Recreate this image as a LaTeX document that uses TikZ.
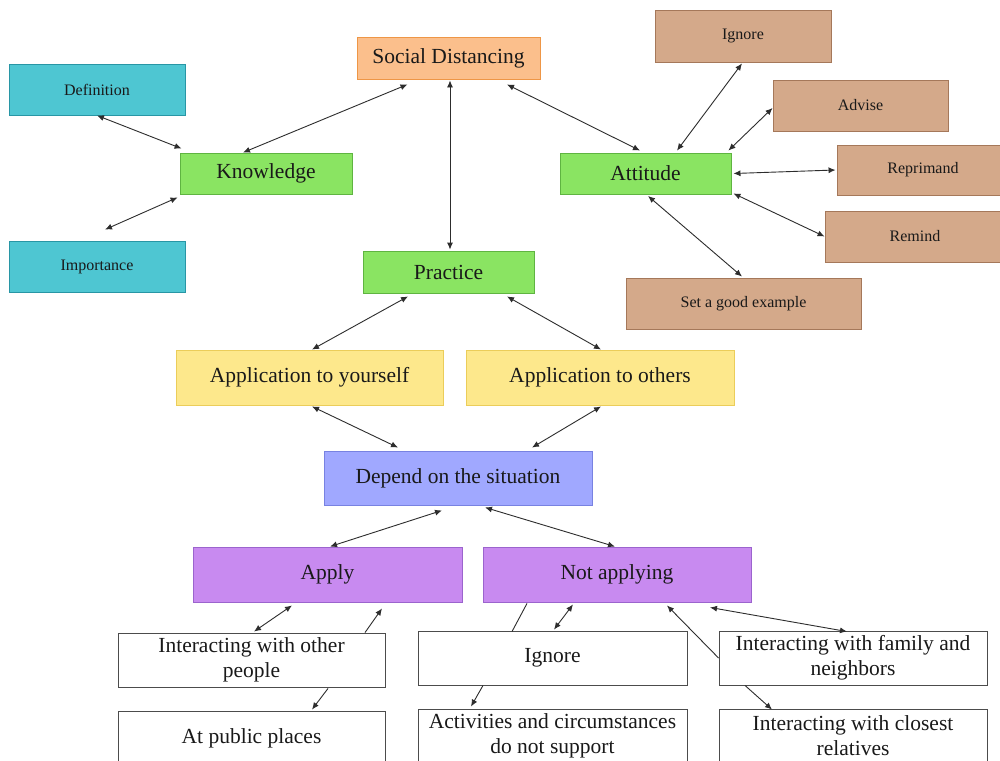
\documentclass[tikz,border=0pt]{standalone}
\usepackage{fontspec}
\setmainfont{Liberation Serif}
\usetikzlibrary{arrows.meta,calc}
\definecolor{orF}{RGB}{251,191,140}\definecolor{orD}{RGB}{238,150,70}
\definecolor{tlF}{RGB}{78,198,210}\definecolor{tlD}{RGB}{40,150,165}
\definecolor{grF}{RGB}{138,228,98}\definecolor{grD}{RGB}{95,180,65}
\definecolor{tnF}{RGB}{212,169,138}\definecolor{tnD}{RGB}{165,120,90}
\definecolor{ylF}{RGB}{253,232,140}\definecolor{ylD}{RGB}{235,205,90}
\definecolor{blF}{RGB}{160,168,255}\definecolor{blD}{RGB}{120,130,225}
\definecolor{puF}{RGB}{200,138,240}\definecolor{puD}{RGB}{155,100,205}
\definecolor{lnC}{RGB}{45,45,45}
\definecolor{txC}{RGB}{25,25,25}
\tikzset{
  bx/.style={draw, line width=0.9pt, inner sep=0pt, align=center, text=txC},
  big/.style={font=\fontsize{21.5}{25}\selectfont},
  small/.style={font=\fontsize{16}{19}\selectfont},
  orbox/.style={bx,big,fill=orF,draw=orD},
  tlbox/.style={bx,small,fill=tlF,draw=tlD},
  grbox/.style={bx,big,fill=grF,draw=grD},
  tnbox/.style={bx,small,fill=tnF,draw=tnD},
  ylbox/.style={bx,big,fill=ylF,draw=ylD},
  blbox/.style={bx,big,fill=blF,draw=blD},
  pubox/.style={bx,big,fill=puF,draw=puD},
  whbox/.style={bx,big,fill=white,draw=black!70},
  dbl/.style={lnC, line width=0.9pt, {Latex[length=7pt,width=6pt]}-{Latex[length=7pt,width=6pt]}},
  sgl/.style={lnC, line width=0.9pt, -{Latex[length=7pt,width=6pt]}},
  pln/.style={lnC, line width=0.9pt},
}
\begin{document}
\begin{tikzpicture}[x=1pt,y=-1pt]
\useasboundingbox[fill=white] (0,0) rectangle (1000,760);
% nodes
\node[orbox, minimum width=183pt, minimum height=42pt] (sd) at (448.5,58) {Social Distancing};
\node[tlbox, minimum width=176pt, minimum height=51pt] (def) at (97,89.5) {Definition};
\node[tlbox, minimum width=176pt, minimum height=51pt] (imp) at (97,266.5) {Importance};
\node[grbox, minimum width=172pt, minimum height=41pt] (know) at (266,173.5) {Knowledge};
\node[grbox, minimum width=171pt, minimum height=41pt] (att) at (645.5,173.5) {Attitude};
\node[grbox, minimum width=171pt, minimum height=42pt] (prac) at (448.5,272) {Practice};
\node[tnbox, minimum width=176pt, minimum height=52pt] (ign1) at (743,36) {Ignore};
\node[tnbox, minimum width=175pt, minimum height=51pt] (adv) at (860.5,105.5) {Advise};
\node[tnbox, minimum width=172pt, minimum height=50pt] (rep) at (923,170) {Reprimand};
\node[tnbox, minimum width=180pt, minimum height=51pt] (rem) at (915,236.5) {Remind};
\node[tnbox, minimum width=235pt, minimum height=51pt] (sge) at (743.5,303.5) {Set a good example};
\node[ylbox, minimum width=267pt, minimum height=55pt] (ay) at (309.5,377.5) {Application to yourself};
\node[ylbox, minimum width=268pt, minimum height=55pt] (ao) at (600,377.5) {Application to others};
\node[blbox, minimum width=268pt, minimum height=54pt] (dep) at (458,478) {Depend on the situation};
\node[pubox, minimum width=269pt, minimum height=55pt] (apply) at (327.5,574.5) {Apply};
\node[pubox, minimum width=268pt, minimum height=55pt] (nap) at (617,574.5) {Not applying};
\node[whbox, minimum width=267pt, minimum height=54pt] (io) at (251.5,660) {Interacting with other\\people};
\node[whbox, minimum width=267pt, minimum height=54pt] (pub) at (251.5,738) {At public places};
\node[whbox, minimum width=269pt, minimum height=54pt] (ign2) at (552.5,658) {Ignore};
\node[whbox, minimum width=269pt, minimum height=54pt] (act) at (552.5,736) {Activities and circumstances\\do not support};
\node[whbox, minimum width=268pt, minimum height=54pt] (fam) at (853,658) {Interacting with family and\\neighbors};
\node[whbox, minimum width=268pt, minimum height=54pt] (rel) at (853,736) {Interacting with closest\\relatives};
% connectors
\draw[dbl] (def.south) -- ($(know.north west)+(2,-4)$);
\draw[dbl] ($(imp.north)+(8,-11)$) -- ($(know.south west)+(-2,3)$);
\draw[dbl] ($(know.north)+(-23,0)$) -- ($(sd.south)+(-41,5)$);
\draw[dbl] ($(sd.south)+(1.5,1)$) -- ($(prac.north)+(1.5,-1)$);
\draw[dbl] ($(sd.south)+(58.5,5)$) -- ($(att.north)+(-5.5,-2)$);
\draw[dbl] ($(att.north)+(31.5,-2)$) -- ($(ign1.south)+(-1,1)$);
\draw[dbl] ($(att.north east)+(-3,-2)$) -- ($(adv.west)+(0,2.5)$);
\draw[dbl] ($(att.east)+(2,0)$) -- ($(rep.west)+(-1,0)$);
\draw[dbl] ($(att.south east)+(2,-1)$) -- ($(rem.west)$);
\draw[dbl] ($(att.south)+(2.5,1.5)$) -- ($(sge.north)+(-1.5,-1)$);
\draw[dbl] ($(prac.south)+(-40.5,3)$) -- ($(ay.north)+(2.5,0)$);
\draw[dbl] ($(prac.south)+(58.5,3)$) -- ($(ao.north)+(1,0)$);
\draw[dbl] ($(ay.south)+(2.5,1)$) -- ($(dep.north)+(-60,-3)$);
\draw[dbl] ($(ao.south)+(1,1)$) -- ($(dep.north)+(74,-3)$);
\draw[dbl] ($(dep.south)+(-16,5)$) -- ($(apply.north)+(2.5,0)$);
\draw[dbl] ($(dep.south)+(27,2)$) -- ($(nap.north)+(-2,0)$);
\draw[dbl] ($(apply.south)+(-35.5,3)$) -- ($(io.north)+(2.5,-1)$);
\draw[sgl] ($(io.north)+(113.5,0)$) -- ($(apply.south)+(54.5,6)$);
\draw[sgl] ($(io.south)+(76.5,1)$) -- ($(pub.north)+(60.5,-1)$);
\draw[pln] ($(ign2.north)+(-40.5,1)$) -- ($(nap.south)+(-90,1)$);
\draw[dbl] ($(nap.south)+(-44,2)$) -- ($(ign2.north)+(1.5,-1)$);
\draw[sgl] ($(ign2.south)+(-69.5,0)$) -- ($(act.north)+(-81.5,-2)$);
\draw[sgl] (fam.west) -- ($(nap.south)+(50,3)$);
\draw[dbl] ($(nap.south)+(93,5)$) -- ($(fam.north)+(-6,1)$);
\draw[sgl] ($(fam.south)+(-108,0)$) -- ($(rel.north)+(-81,1)$);
\end{tikzpicture}
\end{document}
